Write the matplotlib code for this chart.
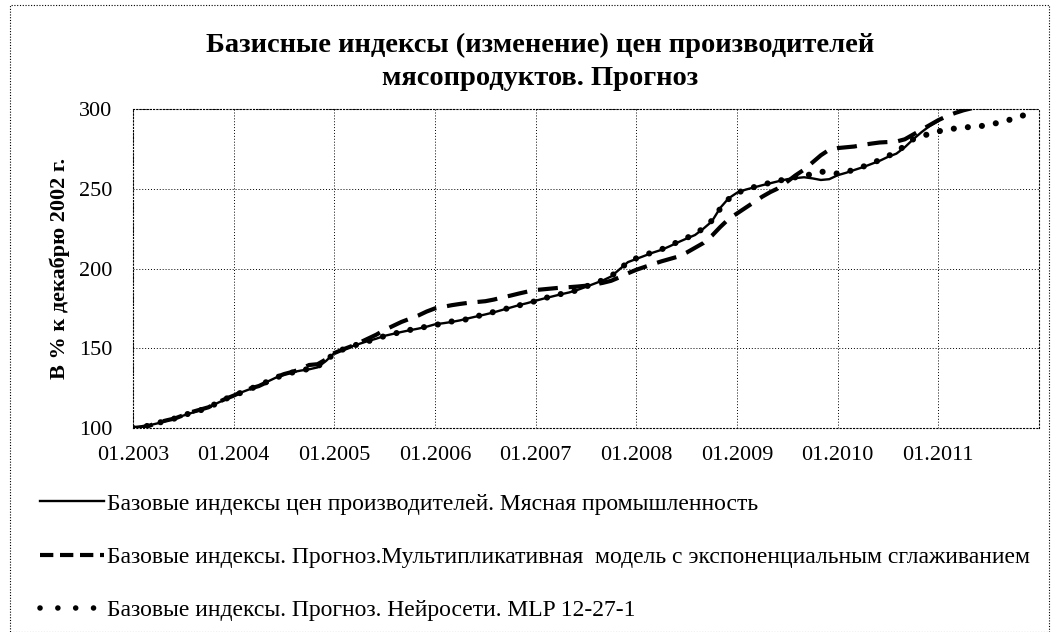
import matplotlib
matplotlib.use("Agg")
import matplotlib.pyplot as plt
from matplotlib.patches import Rectangle
from matplotlib.lines import Line2D

# ---------------- data (monthly, index 0 = 01.2003) ----------------
actual = [
    100.0, 100.8, 101.8, 103.0, 104.5, 106.2, 107.8, 109.5, 111.2, 113.0,
    115.5, 118.0, 120.5, 122.5, 124.5, 126.5, 129.0, 131.5, 133.5, 135.0,
    136.0, 136.8, 138.0, 142.0, 147.0, 149.0, 151.0, 152.8, 154.5, 156.0,
    157.8, 159.0, 160.2, 161.3, 162.3, 163.5, 165.0, 165.7, 166.5, 167.5,
    168.8, 170.0, 171.2, 172.5, 174.0, 175.5, 177.0, 178.3, 179.8, 181.2,
    182.5, 183.8, 185.0, 186.6, 188.5, 190.5, 192.5, 195.0, 199.5, 204.0,
    206.0, 208.0, 210.0, 211.7, 214.0, 216.5, 218.8, 221.0, 225.0, 229.5,
    238.0, 244.0, 247.5, 249.4, 250.8, 252.2, 253.5, 254.8, 256.0, 256.7,
    257.2, 256.5, 255.5, 256.0, 258.5, 260.0, 261.8, 263.5, 265.5, 267.5,
    270.0, 272.0, 276.0, 281.0, 285.5, 289.5, 292.5,
]

exp_smoothing = [
    100.0, 100.5, 101.5, 103.5, 104.8, 106.0, 108.0, 110.0, 111.5, 113.0,
    115.8, 118.2, 120.3, 122.8, 124.8, 126.3, 128.8, 131.8, 133.8, 135.2,
    137.0, 139.5, 140.0, 143.0, 147.0, 149.2, 151.2, 153.5, 156.0, 158.5,
    161.5, 164.0, 166.5, 168.5, 170.5, 173.0, 175.0, 176.0, 177.0, 177.8,
    178.5, 179.0, 179.5, 180.5, 181.8, 183.0, 184.3, 185.5, 186.5, 187.0,
    187.5, 188.0, 188.3, 188.7, 189.2, 190.0, 191.0, 192.3, 194.5, 197.0,
    199.2, 201.0, 202.8, 204.5, 206.0, 207.5, 210.0, 213.0, 216.0, 220.5,
    226.0, 231.0, 234.5, 238.0, 241.5, 245.0, 248.0, 250.5, 254.5, 258.5,
    262.0, 266.5, 271.0, 274.5, 275.5, 276.0, 276.5, 277.5, 278.3, 279.0,
    279.3, 279.6, 281.0, 284.0, 287.0, 290.0, 293.0, 295.5, 297.5, 299.2,
    300.5,
]

mlp = [
    100.0, 100.6, 101.6, 103.2, 104.6, 106.0, 107.9, 109.6, 111.0, 113.2,
    115.4, 118.1, 120.6, 122.3, 124.7, 126.4, 129.1, 131.3, 133.6, 134.8,
    136.2, 137.0, 138.5, 142.5, 146.5, 149.2, 150.8, 153.0, 154.3, 156.2,
    157.6, 159.2, 160.0, 161.5, 162.0, 163.8, 164.6, 165.5, 166.8, 167.2,
    168.5, 170.2, 171.0, 172.8, 173.8, 175.8, 176.8, 178.5, 179.5, 181.5,
    182.3, 184.0, 185.2, 186.4, 188.8, 190.3, 192.8, 195.3, 199.0, 204.3,
    206.4, 208.3, 210.4, 212.0, 214.4, 216.8, 219.2, 221.5, 225.3, 230.0,
    237.5, 243.5, 247.2, 249.6, 251.0, 252.5, 253.8, 255.0, 256.3, 257.2,
    257.8, 259.5, 260.8, 260.0, 259.5, 260.5, 262.0, 263.8, 265.8, 268.0,
    270.5, 273.0, 277.0, 281.0, 283.0, 284.5, 286.0, 287.0, 287.8, 288.4,
    288.8, 289.2, 290.2, 291.2, 292.5, 294.0, 295.8, 297.2,
]

tick_labels = ["01.2003", "01.2004", "01.2005", "01.2006", "01.2007",
               "01.2008", "01.2009", "01.2010", "01.2011"]
y_ticks = [100, 150, 200, 250, 300]

title = "Базисные индексы (изменение) цен производителей\nмясопродуктов. Прогноз"
y_label = "В % к декабрю 2002 г."
series_names = [
    "Базовые индексы цен производителей. Мясная промышленность",
    "Базовые индексы. Прогноз.Мультипликативная  модель с экспоненциальным сглаживанием",
    "Базовые индексы. Прогноз. Нейросети. MLP 12-27-1",
]

# ---------------- figure ----------------
serif = ["Liberation Serif", "DejaVu Serif"]
plt.rcParams["font.family"] = serif

W, H = 1051, 632
fig = plt.figure(figsize=(W / 100, H / 100), dpi=100)
fig.patch.set_facecolor("white")

left, right, top, bottom = 133, 1039, 109, 428
ax = fig.add_axes([left / W, 1 - bottom / H, (right - left) / W, (bottom - top) / H])

x_act = list(range(len(actual)))
x_exp = list(range(len(exp_smoothing)))
x_mlp = list(range(len(mlp)))

l3, = ax.plot(x_mlp, mlp, color="black", lw=4.4, linestyle=(0, (0.01, 2.3)),
              dash_capstyle="round", solid_capstyle="round")
l2, = ax.plot(x_exp, exp_smoothing, color="black", lw=3.0, linestyle=(0, (4.8, 2.6)))
l1, = ax.plot(x_act, actual, color="black", lw=1.7)

ax.set_xlim(0, 108)
ax.set_ylim(100, 300)
ax.set_xticks([12 * i for i in range(len(tick_labels))])
ax.set_xticklabels(tick_labels)
ax.set_yticks(y_ticks)
ax.tick_params(axis="both", length=0, labelsize=16)
ax.tick_params(axis="y", pad=15)
ax.tick_params(axis="x", pad=13)

ax.grid(True, color="black", linestyle=(0, (1, 2)), linewidth=0.7)
for sp in ax.spines.values():
    sp.set_linestyle((0, (1, 2)))
    sp.set_linewidth(0.8)

ax.set_ylabel(y_label, fontsize=16, fontweight="bold", labelpad=6)

fig.text(540 / W, 1 - 62 / H, title, ha="center", va="center", fontsize=20.5,
         fontweight="bold", linespacing=1.4)

# outer chart-area border
fig.add_artist(Rectangle((10 / W, 0.0), (W - 12) / W, 1 - 5 / H, transform=fig.transFigure,
                         fill=False, edgecolor="black", lw=0.8, linestyle=(0, (1, 1.5))))

h1 = Line2D([], [], color="black", lw=1.7)
h2 = Line2D([], [], color="black", lw=3.0, linestyle=(0, (3.2, 1.6)))
h3 = Line2D([], [], color="black", lw=4.0, linestyle=(0, (0.01, 3.2)),
            dash_capstyle="round")
leg = fig.legend([h1, h2, h3], series_names, loc="upper left",
                 bbox_to_anchor=(40 / W, 1 - 493 / H), frameon=False,
                 fontsize=17, handlelength=2.7, handletextpad=0.12,
                 labelspacing=1.35, borderpad=0, borderaxespad=0)

fig.savefig("out.png", dpi=100, facecolor="white")
